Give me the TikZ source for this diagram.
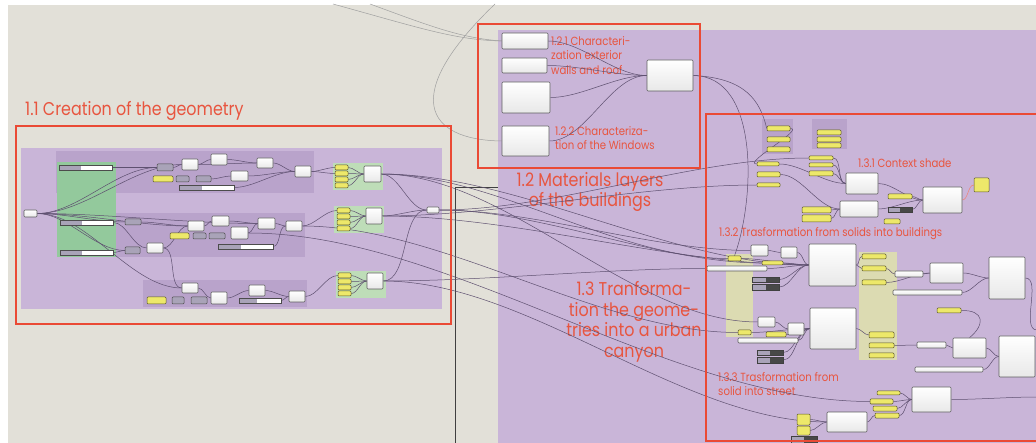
\documentclass[tikz,border=0pt]{standalone}
\usepackage{fontspec}
\setmainfont{Poppins}[FakeStretch=0.86]
\usetikzlibrary{fit, calc}
\definecolor{canvas}{HTML}{E2E0D8}
\definecolor{grouppurple}{HTML}{C9B5D8}
\definecolor{subpurple}{HTML}{B9A3CB}
\definecolor{groupgreen}{HTML}{93C99C}
\definecolor{panelgreen}{HTML}{BEDDB8}
\definecolor{groupbeige}{HTML}{DCDBB2}
\definecolor{ghyellow}{HTML}{EDE86A}
\definecolor{ghgray}{HTML}{A9A3B8}
\definecolor{ghdark}{HTML}{484848}
\definecolor{framered}{HTML}{EA4A35}
\definecolor{labelred}{HTML}{E8553F}
\definecolor{wirecol}{HTML}{5E5070}
\tikzstyle{group} = [rectangle, fill=grouppurple, inner sep=0pt]
\tikzstyle{subgroup} = [rectangle, fill=subpurple, inner sep=0pt]
\tikzstyle{greengroup} = [rectangle, fill=groupgreen, inner sep=0pt]
\tikzstyle{panelgroup} = [rectangle, fill=panelgreen, inner sep=0pt]
\tikzstyle{beigegroup} = [rectangle, fill=groupbeige, inner sep=0pt]
\tikzstyle{comp} = [rectangle, rounded corners=1pt, draw=gray!75!black, line width=0.6pt, top color=white, bottom color=gray!18, inner sep=0pt]
\tikzstyle{panel} = [rectangle, rounded corners=1pt, draw=olive!55!black, line width=0.5pt, fill=ghyellow, inner sep=0pt]
\tikzstyle{param} = [rectangle, rounded corners=1pt, draw=gray!60!black, line width=0.5pt, fill=ghgray, inner sep=0pt]
\tikzstyle{slider} = [rectangle, draw=gray!60!black, line width=0.5pt, fill=white, inner sep=0pt, path picture={\fill[ghgray] (path picture bounding box.north west) rectangle ($(path picture bounding box.south west)!0.42!(path picture bounding box.south east)$);}]
\tikzstyle{toggle} = [rectangle, draw=gray!50!black, line width=0.5pt, fill=ghgray, inner sep=0pt, path picture={\fill[ghdark] ($(path picture bounding box.north west)!0.5!(path picture bounding box.north east)$) rectangle (path picture bounding box.south east);}]
\tikzstyle{frame} = [draw=framered, line width=1.4pt]
\tikzstyle{wire} = [draw=wirecol, line width=0.5pt, out=0, in=180, looseness=0.8]
\tikzstyle{farwire} = [wire, draw=gray!75]
\tikzstyle{redwire} = [wire, draw=framered!70]
\tikzstyle{title} = [text=labelred, font=\fontsize{18.5}{20.5}\selectfont, inner sep=0pt, align=center]
\tikzstyle{note} = [text=labelred, font=\fontsize{11.8}{14.5}\selectfont, inner sep=0pt, align=left]
\pgfdeclarelayer{bg}
\pgfdeclarelayer{wirelayer}
\pgfsetlayers{bg,wirelayer,main}

\begin{document}
\begin{tikzpicture}[x=1pt, y=-1pt]
    \useasboundingbox (0,0) rectangle (1036,443);
    \clip (0,0) rectangle (1036,443);

    \begin{pgfonlayer}{bg}
    % canvas and groups
    \fill [white] (0,0) rectangle (1036,443);
    \fill [canvas] (8,5) rectangle (1036,443);
    \node (grp13) [group, fit={(498,30) (1036,443)}] {};
    \draw [black!75, line width=0.6pt] (455,443) -- (455,187) -- (498,187);
    \node (grp11) [group, fit={(21,148) (442,309)}] {};
    \node (sub11a) [subgroup, fit={(56,151) (314,193)}] {};
    \node (sub11b) [subgroup, fit={(115,213) (305,257)}] {};
    \node (sub11c) [subgroup, fit={(143,280) (307,307)}] {};
    \node (green11) [greengroup, fit={(57,162) (116,257)}] {};
    \node (pga) [panelgroup, fit={(333,163) (383,190)}] {};
    \node (pgb) [panelgroup, fit={(334,206) (384,233)}] {};
    \node (pgc) [panelgroup, fit={(336,271) (386,298)}] {};
    \node (sub13a) [subgroup, fit={(762,119) (793,154)}] {};
    \node (sub13b) [subgroup, fit={(812,119) (847,149)}] {};
    \node (beige13a) [beigegroup, fit={(726,254) (753,337)}] {};
    \node (beige13b) [beigegroup, fit={(859,252) (897,360)}] {};

    % labels
    \node (t11) [title, anchor=base west] at (25,116) {1.1 Creation of the geometry};
    \node (t12) [title] at (590,192) {1.2 Materials layers\\of the buildings};
    \node (t13) [title] at (634,322) {1.3 Tranforma-\\tion the geome-\\tries into a urban\\canyon};
    \node (t121) [note, anchor=north west] at (551,36) {1.2.1 Characteri-\\zation exterior\\walls and roof};
    \node (t122) [note, anchor=north west] at (555,126) {1.2.2 Characteriza-\\tion of the Windows};
    \node (t131) [note, anchor=west] at (858,163) {1.3.1 Context shade};
    \node (t132) [note, anchor=west] at (719,234) {1.3.2 Trasformation from solids into buildings};
    \node (t133) [note, anchor=north west] at (718,372) {1.3.3 Trasformation from\\solid into street};
    \end{pgfonlayer}

    % 1.1 creation of the geometry
    \node (in1) [comp, fit={(24,210) (37,217)}] {};
    \node (sl1) [slider, fit={(59,165) (112,170)}] {};
    \node (sl2) [slider, fit={(60,220) (113,225)}] {};
    \node (sl3) [slider, fit={(60,250) (113,255)}] {};
    \node (pa1) [param, fit={(157,164) (173,171)}] {};
    \node (ca1) [comp, fit={(182,159) (198,170)}] {};
    \node (ca2) [comp, fit={(211,154) (227,165)}] {};
    \node (ca3) [comp, fit={(257,158) (273,168)}] {};
    \node (ca4) [comp, fit={(295,166) (311,177)}] {};
    \node (ca5) [comp, fit={(231,171) (248,181)}] {};
    \node (ya1) [panel, fit={(153,176) (173,182)}] {};
    \node (pa2) [param, fit={(176,176) (189,182)}] {};
    \node (pa3) [param, fit={(196,176) (211,182)}] {};
    \node (sl4) [slider, fit={(179,185) (234,190)}] {};
    \node (pna1) [panel, fit={(335,165) (348,170)}] {};
    \node (pna2) [panel, fit={(335,171) (348,176)}] {};
    \node (pna3) [panel, fit={(335,177) (348,182)}] {};
    \node (pna4) [panel, fit={(335,183) (348,188)}] {};
    \node (oa) [comp, fit={(364,166) (381,182)}] {};
    \node (pb1) [param, fit={(125,219) (141,225)}] {};
    \node (cb1) [comp, fit={(188,221) (204,231)}] {};
    \node (cb2) [comp, fit={(212,216) (229,226)}] {};
    \node (cb3) [comp, fit={(258,218) (275,229)}] {};
    \node (cb4) [comp, fit={(286,221) (302,231)}] {};
    \node (cb5) [comp, fit={(231,227) (248,239)}] {};
    \node (yb1) [panel, fit={(170,233) (189,239)}] {};
    \node (pb2) [param, fit={(193,233) (206,239)}] {};
    \node (pb3) [param, fit={(209,233) (225,239)}] {};
    \node (sl5) [slider, fit={(218,244) (273,249)}] {};
    \node (pb4) [param, fit={(125,247) (140,254)}] {};
    \node (cb6) [comp, fit={(147,243) (163,253)}] {};
    \node (pnb1) [panel, fit={(337,208) (350,213)}] {};
    \node (pnb2) [panel, fit={(337,214) (350,219)}] {};
    \node (pnb3) [panel, fit={(337,220) (350,225)}] {};
    \node (pnb4) [panel, fit={(337,226) (350,231)}] {};
    \node (ob) [comp, fit={(366,208) (382,224)}] {};
    \node (cc1) [comp, fit={(182,283) (198,293)}] {};
    \node (cc2) [comp, fit={(211,292) (227,304)}] {};
    \node (cc3) [comp, fit={(249,285) (265,296)}] {};
    \node (cc4) [comp, fit={(289,291) (305,302)}] {};
    \node (yc1) [panel, fit={(147,297) (166,304)}] {};
    \node (pc2) [param, fit={(172,297) (184,304)}] {};
    \node (pc3) [param, fit={(191,297) (207,304)}] {};
    \node (sl6) [slider, fit={(239,298) (281,303)}] {};
    \node (pnc1) [panel, fit={(338,273) (351,278)}] {};
    \node (pnc2) [panel, fit={(338,279) (351,284)}] {};
    \node (pnc3) [panel, fit={(338,285) (351,290)}] {};
    \node (pnc4) [panel, fit={(338,291) (351,296)}] {};
    \node (oc) [comp, fit={(367,273) (383,289)}] {};
    \node (relay) [comp, fit={(427,207) (439,213)}] {};

    % 1.2 materials
    \node (w121) [comp, fit={(502,33) (548,49)}] {};
    \node (w122) [comp, fit={(502,58) (547,73)}] {};
    \node (w123) [comp, fit={(502,82) (550,113)}] {};
    \node (w124) [comp, fit={(502,126) (549,156)}] {};
    \node (w125) [comp, fit={(647,60) (693,91)}] {};

    % 1.3.1 context shade
    \node (k1) [panel, fit={(767,126) (790,131)}] {};
    \node (k2) [panel, fit={(767,137) (790,142)}] {};
    \node (k3) [panel, fit={(767,147) (790,152)}] {};
    \node (k4) [panel, fit={(817,130) (841,135)}] {};
    \node (k5) [panel, fit={(817,137) (841,142)}] {};
    \node (k6) [panel, fit={(817,143) (841,148)}] {};
    \node (k7) [panel, fit={(757,162) (779,166)}] {};
    \node (k8) [panel, fit={(757,172) (780,177)}] {};
    \node (k9) [panel, fit={(757,183) (780,187)}] {};
    \node (k10) [panel, fit={(809,156) (833,160)}] {};
    \node (k11) [panel, fit={(809,163) (833,167)}] {};
    \node (k12) [panel, fit={(809,171) (833,176)}] {};
    \node (cs1) [comp, fit={(846,173) (878,194)}] {};
    \node (cs2) [comp, fit={(840,201) (878,217)}] {};
    \node (cs3) [comp, fit={(923,187) (962,213)}] {};
    \node (ks) [panel, fit={(974,178) (989,192)}] {};
    \node (k13) [panel, fit={(888,194) (912,199)}] {};
    \node (tg1) [toggle, fit={(888,207) (912,212)}] {};
    \node (k14) [panel, fit={(884,219) (900,224)}] {};
    \node (k15) [panel, fit={(802,207) (831,213)}] {};
    \node (k16) [panel, fit={(802,215) (831,222)}] {};

    % 1.3.2 solids into buildings
    \node (k17) [panel, fit={(728,256) (741,261)}] {};
    \node (br1) [comp, fit={(707,266) (767,271)}] {};
    \node (cw1) [comp, fit={(751,245) (768,256)}] {};
    \node (cw2) [comp, fit={(781,247) (797,258)}] {};
    \node (k18) [panel, fit={(762,261) (783,265)}] {};
    \node (cb7) [comp, fit={(809,244) (856,286)}] {};
    \node (tg2) [toggle, fit={(752,277) (779,282)}] {};
    \node (tg3) [toggle, fit={(752,284) (779,290)}] {};
    \node (k19) [panel, fit={(862,254) (886,259)}] {};
    \node (k20) [panel, fit={(862,266) (886,271)}] {};
    \node (k21) [panel, fit={(862,280) (886,285)}] {};
    \node (cw3) [comp, fit={(895,271) (923,277)}] {};
    \node (cw4) [comp, fit={(930,263) (963,283)}] {};
    \node (cw5) [comp, fit={(989,257) (1025,299)}] {};
    \node (br2) [comp, fit={(893,290) (962,295)}] {};
    \node (k22) [panel, fit={(937,308) (961,313)}] {};
    \node (cw6) [comp, fit={(953,338) (986,358)}] {};
    \node (cw7) [comp, fit={(999,336) (1035,377)}] {};
    \node (cw8) [comp, fit={(917,342) (946,348)}] {};
    \node (br3) [comp, fit={(915,367) (983,372)}] {};
    \node (cb8) [comp, fit={(810,308) (856,349)}] {};
    \node (cw9) [comp, fit={(758,317) (775,327)}] {};
    \node (cw10) [comp, fit={(788,323) (804,335)}] {};
    \node (k23) [panel, fit={(738,330) (751,335)}] {};
    \node (k24) [panel, fit={(766,332) (786,337)}] {};
    \node (br4) [comp, fit={(738,338) (798,343)}] {};
    \node (tg4) [toggle, fit={(757,350) (783,355)}] {};
    \node (tg5) [toggle, fit={(757,357) (783,363)}] {};
    \node (k25) [panel, fit={(869,332) (894,338)}] {};
    \node (k26) [panel, fit={(869,343) (894,348)}] {};
    \node (k27) [panel, fit={(869,353) (894,358)}] {};

    % 1.3.3 solid into street
    \node (k28) [panel, fit={(877,391) (900,395)}] {};
    \node (k29) [panel, fit={(870,399) (893,404)}] {};
    \node (k30) [panel, fit={(873,406) (897,411)}] {};
    \node (k31) [panel, fit={(875,413) (899,418)}] {};
    \node (cw11) [comp, fit={(912,387) (951,412)}] {};
    \node (cw12) [comp, fit={(827,412) (867,432)}] {};
    \node (k32) [panel, fit={(797,414) (810,425)}] {};
    \node (k33) [panel, fit={(797,426) (810,435)}] {};
    \node (tg6) [toggle, fit={(791,436) (817,446)}] {};

    \coordinate (e1) at (333,4);
    \coordinate (e2) at (370,4);
    \coordinate (e3) at (495,4);
    \coordinate (e4) at (1037,397);
    \coordinate (e5) at (1037,330);

    \begin{pgfonlayer}{wirelayer}
    % wires 1.1
    \draw [wire] (in1.east) to (pa1.west);
    \draw [wire] (in1.east) to (ca1.west);
    \draw [wire] (in1.east) to (pb1.west);
    \draw [wire] (in1.east) to (cb1.west);
    \draw [wire] (in1.east) to (cb3.west);
    \draw [wire] (in1.east) to (pb4.west);
    \draw [wire] (in1.east) to (cc1.west);
    \draw [wire] (sl1.east) to (pa1.west);
    \draw [wire] (sl2.east) to (cb6.west);
    \draw [wire] (sl3.east) to (pb4.west);
    \draw [wire] (pa1.east) to (ca1.west);
    \draw [wire] (ca1.east) to (ca2.west);
    \draw [wire] (ca1.east) to (ca3.west);
    \draw [wire] (ca2.east) to (ca3.west);
    \draw [wire] (pa3.east) to (ca5.west);
    \draw [wire] (ca5.east) to (ca4.west);
    \draw [wire] (ca3.east) to (ca4.west);
    \draw [wire] (sl4.east) to (ca4.west);
    \draw [wire] (ca4.east) to (pna1.west);
    \draw [wire] (ca4.east) to (pna2.west);
    \draw [wire] (pna1.east) to (oa.west);
    \draw [wire] (pna2.east) to (oa.west);
    \draw [wire] (pna3.east) to (oa.west);
    \draw [wire] (pna4.east) to (oa.west);
    \draw [wire] (pb1.east) to (cb1.west);
    \draw [wire] (cb6.east) to (cb1.west);
    \draw [wire] (cb1.east) to (cb2.west);
    \draw [wire] (cb2.east) to (cb3.west);
    \draw [wire] (cb5.east) to (cb3.west);
    \draw [wire] (cb3.east) to (cb4.west);
    \draw [wire] (sl5.east) to (cb4.west);
    \draw [wire] (cb4.east) to (pnb1.west);
    \draw [wire] (pnb1.east) to (ob.west);
    \draw [wire] (pnb2.east) to (ob.west);
    \draw [wire] (pnb3.east) to (ob.west);
    \draw [wire] (pnb4.east) to (ob.west);
    \draw [wire] (cb6.east) to (cc1.west);
    \draw [wire] (cc1.east) to (cc2.west);
    \draw [wire] (cc2.east) to (cc3.west);
    \draw [wire] (cc3.east) to (cc4.west);
    \draw [wire] (sl6.east) to (cc4.west);
    \draw [wire] (cc4.east) to (pnc1.west);
    \draw [wire] (pnc1.east) to (oc.west);
    \draw [wire] (pnc2.east) to (oc.west);
    \draw [wire] (pnc3.east) to (oc.west);
    \draw [wire] (pnc4.east) to (oc.west);
    \draw [wire] (oa.east) to (relay.west);
    \draw [wire] (ob.east) to (relay.west);
    \draw [wire] (oc.east) to (relay.west);

    % long wires towards 1.3
    \draw [wire] (oa.east) to (k17.west);
    \draw [wire] (oa.east) to (cb7.west);
    \draw [wire] (oa.east) to (cw9.west);
    \draw [wire] (relay.east) to (k10.west);
    \draw [wire] (relay.east) to (cw1.west);
    \draw [wire] (relay.east) to (k18.west);
    \draw [wire] (ob.east) to (k9.west);
    \draw [wire] (ob.east) to (cb7.west);
    \draw [wire] (oc.east) to (br1.west);
    \draw [wire] (oc.east) to (cw12.west);
    \draw [wire] (cb4.east) to (k23.west);
    \draw [wire] (cb5.east) to (k29.west);

    % wires 1.2
    \draw [farwire] (e1) .. controls (420,28) and (455,40) .. (w121.west);
    \draw [farwire] (e2) .. controls (430,26) and (460,38) .. (w121.west);
    \draw [farwire] (e3) .. controls (400,95) and (425,140) .. (w124.west);
    \draw [wire] (w121.east) to (w125.west);
    \draw [wire] (w122.east) to (w125.west);
    \draw [wire] (w123.east) to (w125.west);
    \draw [wire] (w124.east) to (w125.west);
    \draw [wire] (w125.east) .. controls (745,78) and (760,100) .. (k1.west);
    \draw [wire] (w125.east) .. controls (760,76) and (755,200) .. (k17.north);

    % wires 1.3
    \draw [wire] (k1.east) to (k7.west);
    \draw [wire] (k7.east) to (cs1.west);
    \draw [wire] (k8.east) to (cs2.west);
    \draw [wire] (k10.east) to (cs1.west);
    \draw [wire] (k11.east) to (cs1.west);
    \draw [wire] (k12.east) to (cs1.west);
    \draw [wire] (k15.east) to (cs2.west);
    \draw [wire] (k16.east) to (cs2.west);
    \draw [wire] (cs1.east) to (cs3.west);
    \draw [wire] (cs2.east) to (cs3.west);
    \draw [wire] (k13.east) to (cs3.west);
    \draw [wire] (tg1.east) to (cs3.west);
    \draw [redwire] (cs3.east) to (ks.west);
    \draw [wire] (k17.east) to (cb7.west);
    \draw [wire] (br1.east) to (cb7.west);
    \draw [wire] (cw1.east) to (cw2.west);
    \draw [wire] (cw2.east) to (cb7.west);
    \draw [wire] (k18.east) to (cb7.west);
    \draw [wire] (tg2.east) to (cb7.west);
    \draw [wire] (tg3.east) to (cb7.west);
    \draw [wire] (cb7.east) to (k19.west);
    \draw [wire] (cb7.east) to (k20.west);
    \draw [wire] (k20.east) to (cw3.west);
    \draw [wire] (cw3.east) to (cw4.west);
    \draw [wire] (k21.east) to (cw4.west);
    \draw [wire] (cw4.east) to (cw5.west);
    \draw [wire] (br2.east) to (cw5.west);
    \draw [wire] (cw9.east) to (cw10.west);
    \draw [wire] (cw10.east) to (cb8.west);
    \draw [wire] (k23.east) to (cb8.west);
    \draw [wire] (k24.east) to (cb8.west);
    \draw [wire] (br4.east) to (cb8.west);
    \draw [wire] (tg4.east) to (cb8.west);
    \draw [wire] (tg5.east) to (cb8.west);
    \draw [wire] (cb8.east) to (k25.west);
    \draw [wire] (k26.east) to (cw8.west);
    \draw [wire] (cw8.east) to (cw6.west);
    \draw [wire] (k22.east) .. controls (985,310) and (985,325) .. (cw6.north);
    \draw [wire] (cw6.east) to (cw7.west);
    \draw [wire] (br3.east) to (cw7.west);
    \draw [wire] (cw5.east) to (e5);
    \draw [wire] (k28.east) to (cw11.west);
    \draw [wire] (k29.east) to (cw11.west);
    \draw [wire] (k30.east) to (cw11.west);
    \draw [wire] (k31.east) to (cw11.west);
    \draw [wire] (cw11.east) to (e4);
    \draw [wire] (k32.east) to (cw12.west);
    \draw [wire] (k33.east) to (cw12.west);
    \draw [wire] (cw12.east) to (k31.west);
    \end{pgfonlayer}

    % frames
    \draw [frame] (16,126) rectangle (451,324);
    \draw [frame] (478,24) rectangle (700,168);
    \draw [frame] (706,114) rectangle (1045,441);
\end{tikzpicture}
\end{document}
